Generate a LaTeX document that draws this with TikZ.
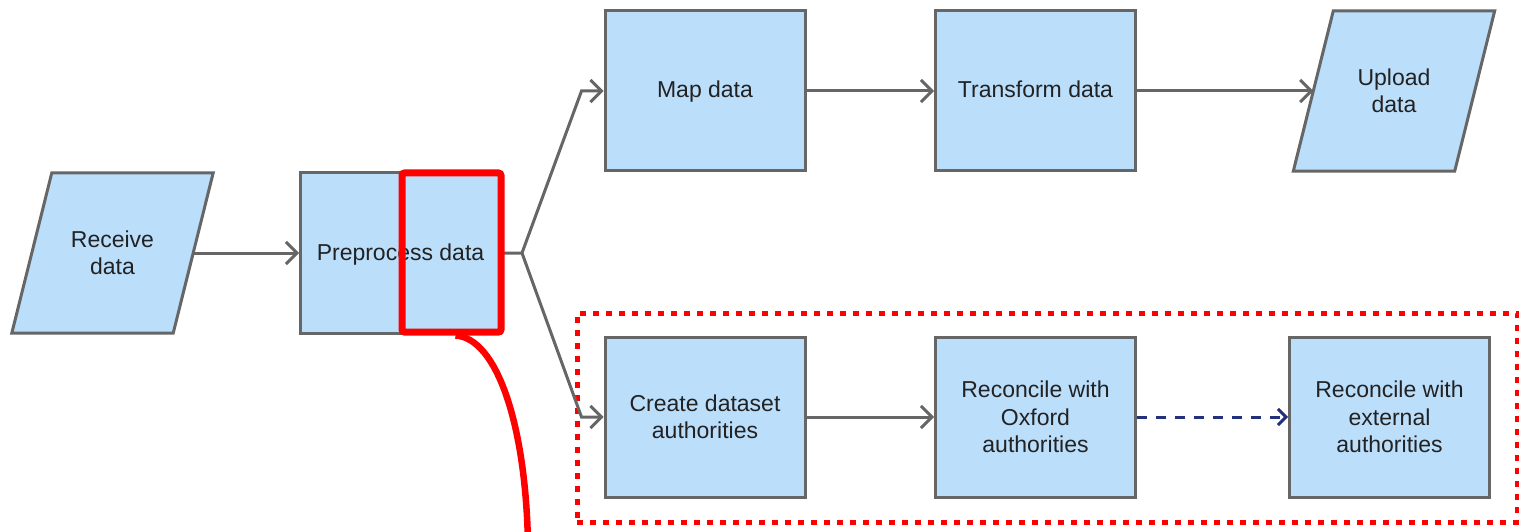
\documentclass[tikz,border=0pt]{standalone}
\usepackage{fontspec}
\setmainfont{Liberation Sans}
\usetikzlibrary{arrows.meta,calc,backgrounds}
\definecolor{boxfill}{HTML}{BBDEFB}
\definecolor{boxline}{HTML}{666666}
\definecolor{txt}{HTML}{222222}
\definecolor{navy}{HTML}{22307E}
\definecolor{hired}{HTML}{FF0000}
\begin{document}
\begin{tikzpicture}[x=1pt,y=-1pt,
  every node/.style={font=\fontsize{23}{27.5}\selectfont, text=txt, align=center},
  procbox/.style={rectangle, draw=boxline, line width=3pt, fill=boxfill, minimum width=200, minimum height=160, inner sep=0pt},
  oneline/.style={text height=17pt, text depth=3pt},
  iobox/.style={rectangle, minimum width=161, minimum height=160, inner sep=0pt},
  iofill/.style={draw=boxline, line width=3pt, fill=boxfill, line join=miter},
  conn/.style={draw=boxline, line width=3pt, -{Straight Barb[length=11pt,width=22pt,line width=3pt]}},
  dconn/.style={draw=navy, line width=3pt, dash pattern=on 10pt off 9pt, -{Straight Barb[length=8pt,width=16pt,line width=3pt]}},
  hilite/.style={draw=hired, line width=7pt, rounded corners=2.5pt, minimum width=99, minimum height=159, inner sep=0pt},
  grpbox/.style={draw=hired, line width=5pt, dash pattern=on 6pt off 7pt, minimum width=940, minimum height=209, inner sep=0pt}
]
\useasboundingbox (0,0) rectangle (1519,532);

% input/output shapes
\node[iobox] (rcv) at (112.5,253) {Receive\\data};
\node[iobox] (upl) at (1394,91) {Upload\\data};
\begin{scope}[on background layer]
  \path[iofill] ($(rcv.south west)+(-20,0)$) -- ($(rcv.south east)+(-20,0)$) -- ($(rcv.north east)+(20,0)$) -- ($(rcv.north west)+(20,0)$) -- cycle;
  \path[iofill] ($(upl.south west)+(-20,0)$) -- ($(upl.south east)+(-20,0)$) -- ($(upl.north east)+(20,0)$) -- ($(upl.north west)+(20,0)$) -- cycle;
\end{scope}

% process boxes
\node[procbox, oneline] (pre) at (400.5,253) {Preprocess data};
\node[procbox, oneline] (map) at (705,91) {Map data};
\node[procbox, oneline] (trf) at (1035.5,91) {Transform data};
\node[procbox] (cre) at (705,417) {Create dataset\\authorities};
\node[procbox] (oxf) at (1035.5,417) {Reconcile with\\Oxford\\authorities};
\node[procbox] (ext) at (1389.5,417) {Reconcile with\\external\\authorities};

% group highlight
\node[grpbox] (grp) at (1047,417.5) {};

% connectors
\draw[conn] (rcv.east) -- (pre.west);
\draw[conn] (pre.east) -- ++(20,0) coordinate (split) -- ($(map.west)+(-22,0)$) -- (map.west);
\draw[conn] (split) -- ($(cre.west)+(-22,0)$) -- (cre.west);
\draw[conn] (map.east) -- (trf.west);
\draw[conn] (trf.east) -- (upl.west);
\draw[conn] (cre.east) -- (oxf.west);
\draw[dconn] (oxf.east) -- (ext.west);

% red highlight and callout curve
\node[hilite] (hl) at (451.5,252.5) {};
\coordinate (redend) at (528,545);
\draw[hired, line width=6.5pt] ($(hl.south)+(4,0)$) .. controls (497,338) and (526,425) .. (redend);
\end{tikzpicture}
\end{document}
